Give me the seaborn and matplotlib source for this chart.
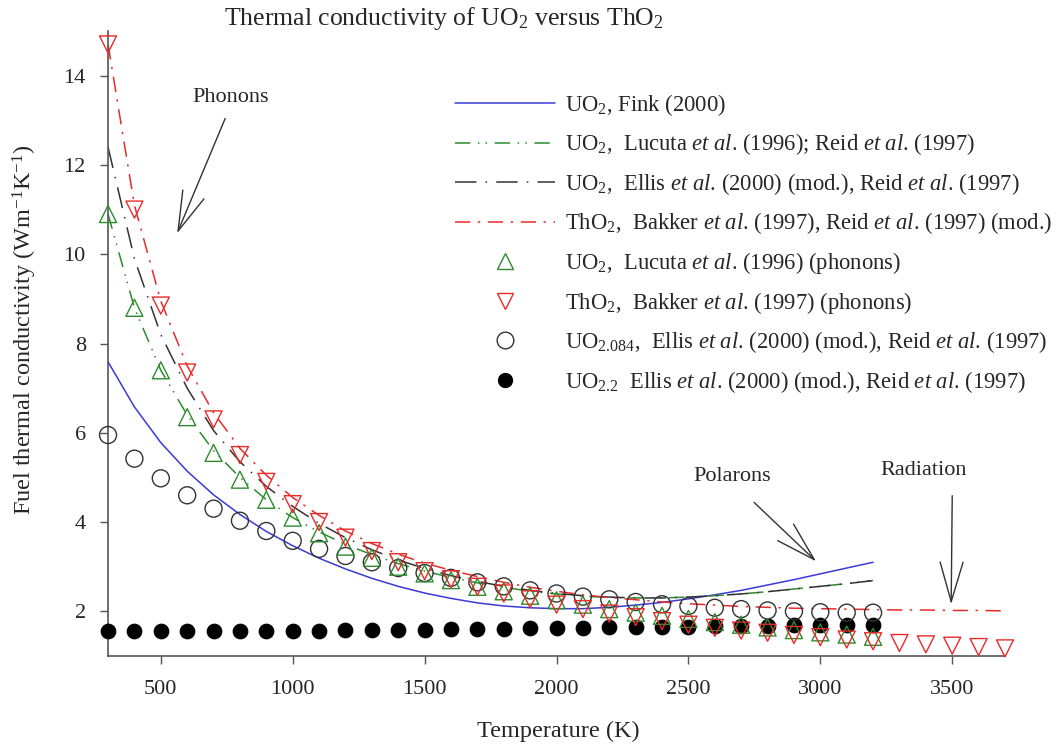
import matplotlib
matplotlib.use("Agg")
import pandas as pd
import matplotlib.pyplot as plt
import seaborn as sns
from matplotlib.lines import Line2D

# temperatures (K)
temps = list(range(300, 3300, 100))        # 300 .. 3200
temps_tho2 = list(range(300, 3800, 100))   # 300 .. 3700

# curves (W m-1 K-1)
fink = [7.59, 6.58, 5.78, 5.14, 4.61, 4.17, 3.79, 3.47, 3.19, 2.95,
        2.74, 2.56, 2.41, 2.29, 2.19, 2.12, 2.08, 2.06, 2.06, 2.09,
        2.14, 2.20, 2.28, 2.37, 2.47, 2.59, 2.71, 2.84, 2.97, 3.10]
lucuta_reid = [10.9, 8.8, 7.4, 6.4, 5.6, 5.0, 4.5, 4.1, 3.78, 3.5,
               3.27, 3.07, 2.9, 2.76, 2.64, 2.54, 2.45, 2.39, 2.34, 2.31,
               2.3, 2.3, 2.32, 2.35, 2.39, 2.44, 2.5, 2.56, 2.62, 2.69]
ellis_reid = [12.4, 9.9, 8.2, 7.0, 6.05, 5.35, 4.8, 4.35, 3.97, 3.65,
              3.38, 3.15, 2.96, 2.8, 2.67, 2.56, 2.47, 2.4, 2.35, 2.32,
              2.3, 2.3, 2.32, 2.35, 2.39, 2.44, 2.5, 2.56, 2.62, 2.69]
bakker_reid = [14.7, 11.1, 8.95, 7.5, 6.45, 5.65, 5.05, 4.55, 4.15, 3.8,
               3.52, 3.28, 3.08, 2.92, 2.78, 2.65, 2.54, 2.45, 2.37, 2.31,
               2.26, 2.21, 2.17, 2.14, 2.11, 2.09, 2.07, 2.06, 2.05, 2.04,
               2.03, 2.03, 2.02, 2.02, 2.01]

# symbols
lucuta_phon = [10.9, 8.8, 7.4, 6.35, 5.55, 4.95, 4.5, 4.1, 3.75, 3.45,
               3.2, 3.0, 2.85, 2.7, 2.55, 2.45, 2.35, 2.25, 2.15, 2.05,
               1.97, 1.9, 1.83, 1.76, 1.7, 1.64, 1.58, 1.53, 1.48, 1.43]
bakker_phon = [14.7, 11.0, 8.85, 7.35, 6.3, 5.5, 4.9, 4.4, 4.0, 3.65,
               3.35, 3.1, 2.9, 2.72, 2.55, 2.4, 2.27, 2.15, 2.05, 1.95,
               1.87, 1.78, 1.7, 1.63, 1.57, 1.52, 1.47, 1.42, 1.37, 1.33,
               1.29, 1.26, 1.23, 1.2, 1.17]
uo2084 = [5.95, 5.42, 4.98, 4.6, 4.3, 4.03, 3.8, 3.58, 3.4, 3.24,
          3.1, 2.97, 2.86, 2.75, 2.65, 2.56, 2.47, 2.4, 2.33, 2.27,
          2.21, 2.16, 2.12, 2.08, 2.05, 2.02, 2.0, 1.98, 1.97, 1.97]
uo22 = [1.55, 1.55, 1.55, 1.55, 1.56, 1.56, 1.56, 1.57, 1.57, 1.58,
        1.58, 1.59, 1.59, 1.60, 1.61, 1.61, 1.62, 1.63, 1.63, 1.64,
        1.65, 1.66, 1.66, 1.67, 1.68, 1.68, 1.69, 1.69, 1.70, 1.70]

BLUE, GREEN, BLACK, RED = "#3a3ad8", "#2e8b2e", "#333333", "#e82a2a"

lines = pd.concat([
    pd.DataFrame({"T": temps, "k": fink, "src": "fink"}),
    pd.DataFrame({"T": temps, "k": lucuta_reid, "src": "lucuta"}),
    pd.DataFrame({"T": temps, "k": ellis_reid, "src": "ellis"}),
    pd.DataFrame({"T": temps_tho2, "k": bakker_reid, "src": "bakker"}),
])
palette = {"fink": BLUE, "lucuta": GREEN, "ellis": BLACK, "bakker": RED}
dash_map = {"fink": "", "lucuta": (10, 5, 1, 4, 1, 5),
            "ellis": (14, 6, 1, 6), "bakker": (10, 5, 1.5, 5)}

sns.set_theme(style="ticks")
plt.rcParams["font.family"] = ["Liberation Serif", "DejaVu Serif"]
plt.rcParams["mathtext.fontset"] = "custom"
plt.rcParams["mathtext.rm"] = "Liberation Serif"
plt.rcParams["mathtext.it"] = "Liberation Serif:italic"
plt.rcParams["mathtext.default"] = "regular"

fig = plt.figure(figsize=(10.56, 7.44), dpi=100)
ax = fig.add_axes([0.1023, 0.1183, 0.8494, 0.84])

sns.lineplot(data=lines, x="T", y="k", hue="src", style="src", palette=palette,
             dashes=dash_map, linewidth=1.1, legend=False, ax=ax, sort=False)

sns.scatterplot(x=temps, y=uo22, marker="o", color="black", edgecolor="black",
                s=110, ax=ax, zorder=3, clip_on=False)
sns.scatterplot(x=temps, y=uo2084, marker="o", fc="none", ec=BLACK,
                linewidth=1.0, s=150, ax=ax, zorder=3, clip_on=False)
sns.scatterplot(x=temps, y=lucuta_phon, marker="^", fc="none", ec=GREEN,
                linewidth=1.0, s=150, ax=ax, zorder=4, clip_on=False)
sns.scatterplot(x=temps_tho2, y=bakker_phon, marker="v", fc="none", ec=RED,
                linewidth=1.0, s=150, ax=ax, zorder=4, clip_on=False)

ax.set_xlim(300, 3700)
ax.set_ylim(1, 15)
ax.set_xticks([500, 1000, 1500, 2000, 2500, 3000, 3500])
ax.set_yticks([2, 4, 6, 8, 10, 12, 14])
ax.tick_params(direction="out", length=6, width=1, color="#555555",
               labelsize=16)
ax.tick_params(axis="y", pad=10)
ax.tick_params(axis="x", pad=11)
for side in ["left", "bottom"]:
    ax.spines[side].set_color("#555555")
    ax.spines[side].set_linewidth(1.2)
sns.despine(ax=ax)

ax.set_xlabel("")
ax.set_ylabel("")
fig.text(558 / 1056, 1 - 731 / 744, "Temperature (K)", fontsize=17.5,
         ha="center", va="center")
fig.text(25 / 1056, 1 - 330 / 744,
         r"Fuel thermal conductivity (Wm$^{-1}$K$^{-1}$)", fontsize=17.5,
         rotation=90, ha="center", va="center")
fig.text(444 / 1056, 1 - 18 / 744, r"Thermal conductivity of UO$_2$ versus ThO$_2$",
         fontsize=18.5, ha="center", va="center")

arrow = dict(arrowstyle="->,head_length=1.9,head_width=0.55", color="#333333",
             lw=1.0, shrinkA=0, shrinkB=0, mutation_scale=15)
ax.annotate("", xy=(562, 10.47), xytext=(744, 13.04), arrowprops=arrow)
ax.text(763, 13.5, "Phonons", fontsize=16, ha="center", va="center")
ax.annotate("", xy=(2984, 3.12), xytext=(2749, 4.44), arrowprops=arrow)
ax.text(2665, 5.02, "Polarons", fontsize=16, ha="center", va="center")
ax.annotate("", xy=(3496, 2.16), xytext=(3500, 4.59), arrowprops=arrow)
ax.text(3390, 5.15, "Radiation", fontsize=16, ha="center", va="center")

etal = r"$\mathit{et\ al}$."
handles = [
    Line2D([], [], color=BLUE, lw=1.1),
    Line2D([], [], color=GREEN, lw=1.1, dashes=dash_map["lucuta"]),
    Line2D([], [], color=BLACK, lw=1.1, dashes=dash_map["ellis"]),
    Line2D([], [], color=RED, lw=1.1, dashes=dash_map["bakker"]),
    Line2D([], [], ls="none", marker="^", mfc="none", mec=GREEN, ms=12),
    Line2D([], [], ls="none", marker="v", mfc="none", mec=RED, ms=12),
    Line2D([], [], ls="none", marker="o", mfc="none", mec=BLACK, ms=12),
    Line2D([], [], ls="none", marker="o", mfc="black", mec="black", ms=10),
]
labels = [
    r"UO$_2$, Fink (2000)",
    r"UO$_2$,  Lucuta " + etal + r" (1996); Reid " + etal + " (1997)",
    r"UO$_2$,  Ellis " + etal + r" (2000) (mod.), Reid " + etal + " (1997)",
    r"ThO$_2$,  Bakker " + etal + r" (1997), Reid " + etal + " (1997) (mod.)",
    r"UO$_2$,  Lucuta " + etal + " (1996) (phonons)",
    r"ThO$_2$,  Bakker " + etal + " (1997) (phonons)",
    r"UO$_{2.084}$,  Ellis " + etal + r" (2000) (mod.), Reid " + etal + " (1997)",
    r"UO$_{2.2}$  Ellis " + etal + r" (2000) (mod.), Reid " + etal + " (1997)",
]
ax.legend(handles, labels, loc="upper left", bbox_to_anchor=(455 / 1056, 1 - 92 / 744),
          bbox_transform=fig.transFigure, frameon=False, fontsize=16.3,
          handlelength=4.4, handletextpad=0.45, labelspacing=0.6, borderpad=0,
          borderaxespad=0)

fig.savefig("out.png", dpi=100)
